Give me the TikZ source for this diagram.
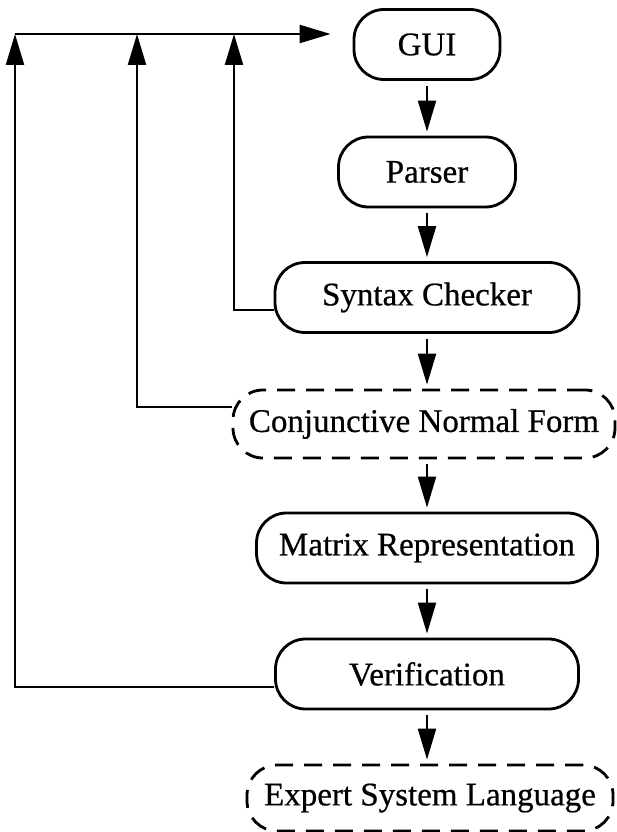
\documentclass[tikz,border=0pt]{standalone}
\usepackage{fontspec}
\setmainfont{Liberation Serif}
\newfontface\boxfont{Liberation Serif}[FakeBold=0.6]
\usetikzlibrary{arrows.meta,calc}

\begin{document}
\begin{tikzpicture}[x=1pt,y=-1pt,
  proc/.style={draw, line width=2.8pt, rounded corners=30pt, minimum height=70pt,
    inner sep=0pt, font=\boxfont\fontsize{33}{39}\selectfont},
  dproc/.style={proc, dash pattern=on 18pt off 11pt},
  flow/.style={line width=2.2pt, -{Triangle[length=31pt,width=18pt]}},
  step arrow/.style={flow, shorten <=5pt, shorten >=4pt}]

\useasboundingbox (0,0) rectangle (616,832);

% processing chain
\node[proc, minimum width=146pt] (gui) at (427,44.5) {GUI};
\node[proc, minimum width=177pt] (parser) at (427,172) {Parser};
\node[proc, minimum width=304pt] (syntax) at (427,297.5) {Syntax Checker};
\node[dproc, minimum width=382pt, minimum height=68pt] (cnf) at (424,424) {Conjunctive Normal Form};
\node[proc, minimum width=341pt] (matrix) at (427,548) {Matrix Representation};
\node[proc, minimum width=303pt] (verif) at (427,674) {Verification};
\node[dproc, minimum width=366pt, minimum height=66pt] (esl) at (430,798) {Expert System Language};

% downward steps
\draw[step arrow] (gui.south) -- (parser.north);
\draw[step arrow] (parser.south) -- (syntax.north);
\draw[step arrow] (syntax.south) -- (syntax.south |- cnf.north);
\draw[step arrow] (matrix.north |- cnf.south) -- (matrix.north);
\draw[step arrow] (matrix.south) -- (verif.north);
\draw[step arrow] (verif.south) -- (verif.south |- esl.north);

% feedback lines back to the GUI
\coordinate (t1) at (15,34);
\coordinate (t2) at (137,34);
\coordinate (t3) at (234,34);
\draw[flow] ([yshift=-13pt]verif.west) -| (t1);
\draw[flow] ([yshift=17pt]cnf.west) -| (t2);
\draw[flow] ([yshift=-12.5pt]syntax.west) -| (t3);
\draw[flow, shorten >=22pt] (t1) -- (gui.west |- t1);
\end{tikzpicture}
\end{document}
